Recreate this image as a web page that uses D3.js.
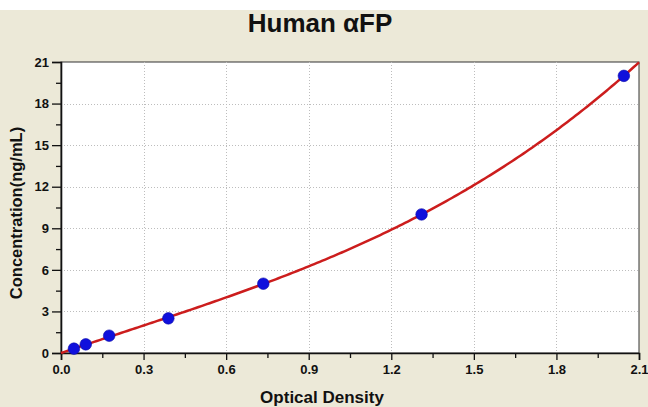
<!DOCTYPE html>
<html>
<head>
<meta charset="utf-8">
<script src="https://cdn.jsdelivr.net/npm/d3@7"></script>
<style>
	html, body { margin: 0; padding: 0; background: #fff; }
	svg { display: block; }
	text { font-family: "Liberation Sans", Arial, sans-serif; font-weight: bold; fill: #111; }
	.axis text { font-size: 13px; }
</style>
</head>
<body>
<svg id="chart" width="648" height="407"></svg>
<script>
// standards
const odValues = [0.047, 0.090, 0.175, 0.390, 0.735, 1.310, 2.045];
const concValues = [0.3125, 0.625, 1.25, 2.5, 5, 10, 20];

const xTicks = [0, 0.3, 0.6, 0.9, 1.2, 1.5, 1.8, 2.1];
const yTicks = [0, 3, 6, 9, 12, 15, 18, 21];
const xMinorTicks = [0.15, 0.45, 0.75, 1.05, 1.35, 1.65, 1.95];
const yMinorTicks = [1.5, 4.5, 7.5, 10.5, 13.5, 16.5, 19.5];

const chartTitle = "Human αFP";
const xTitle = "Optical Density";
const yTitle = "Concentration(ng/mL)";

const margin = {left: 61, right: 9, top: 62, bottom: 54};
const W = 648, H = 407;

const svg = d3.select('#chart');

// least squares cubic through the origin: c = a*x + b*x^2 + c*x^3
function fitCubic(xs, ys) {
	const M = [[0, 0, 0], [0, 0, 0], [0, 0, 0]];
	const v = [0, 0, 0];
	xs.forEach((x, i) => {
		const row = [x, x * x, x * x * x];
		for (let r = 0; r < 3; r++) {
			v[r] += row[r] * ys[i];
			for (let c = 0; c < 3; c++) M[r][c] += row[r] * row[c];
		}
	});
	for (let p = 0; p < 3; p++) {
		for (let r = p + 1; r < 3; r++) {
			const f = M[r][p] / M[p][p];
			for (let c = p; c < 3; c++) M[r][c] -= f * M[p][c];
			v[r] -= f * v[p];
		}
	}
	const k = [0, 0, 0];
	for (let r = 2; r >= 0; r--) {
		let s = v[r];
		for (let c = r + 1; c < 3; c++) s -= M[r][c] * k[c];
		k[r] = s / M[r][r];
	}
	return x => k[0] * x + k[1] * x * x + k[2] * x * x * x;
}

const fit = fitCubic(odValues, concValues);

const x = d3.scaleLinear().domain([0, 2.1]).range([margin.left, W - margin.right]);
const y = d3.scaleLinear().domain([0, 21]).range([H - margin.bottom, margin.top]);

// beige panel
svg.append('rect')
	.attr('x', 0).attr('y', 10)
	.attr('width', W).attr('height', H - 10)
	.attr('fill', '#ece9d8');

svg.append('rect')
	.attr('x', x(0)).attr('y', y(21))
	.attr('width', x(2.1) - x(0)).attr('height', y(0) - y(21))
	.attr('fill', '#fff')
	.attr('stroke', '#333')
	.attr('stroke-width', 1);

// grid
const grid = svg.append('g').attr('stroke', '#bdbdbd').attr('stroke-width', 1).attr('stroke-dasharray', '1,2');
grid.selectAll('.gx')
	.data(xTicks.slice(1, -1))
	.join('line')
	.attr('x1', d => Math.round(x(d)) + 0.5).attr('x2', d => Math.round(x(d)) + 0.5)
	.attr('y1', y(21)).attr('y2', y(0));
grid.selectAll('.gy')
	.data(yTicks.slice(1, -1))
	.join('line')
	.attr('y1', d => Math.round(y(d)) + 0.5).attr('y2', d => Math.round(y(d)) + 0.5)
	.attr('x1', x(0)).attr('x2', x(2.1));

// axes
svg.append('g')
	.attr('class', 'axis')
	.attr('transform', `translate(0,${y(0)})`)
	.call(d3.axisBottom(x).tickValues(xTicks).tickFormat(d3.format('.1f')).tickSize(7).tickPadding(5));
svg.append('g')
	.attr('transform', `translate(0,${y(0)})`)
	.call(d3.axisBottom(x).tickValues(xMinorTicks).tickFormat('').tickSize(5))
	.select('.domain').remove();

svg.append('g')
	.attr('class', 'axis')
	.attr('transform', `translate(${x(0)},0)`)
	.call(d3.axisLeft(y).tickValues(yTicks).tickFormat(d3.format('d')).tickSize(9).tickPadding(3));
svg.append('g')
	.attr('transform', `translate(${x(0)},0)`)
	.call(d3.axisLeft(y).tickValues(yMinorTicks).tickFormat('').tickSize(5))
	.select('.domain').remove();

svg.selectAll('.tick line').attr('stroke', '#111').attr('stroke-width', 1.3);
svg.selectAll('.domain').attr('stroke', '#111').attr('stroke-width', 1.6);

// fitted curve
const curvePts = d3.range(0, 2.1001, 0.01).map(v => [v, fit(v)]);
svg.append('path')
	.datum(curvePts)
	.attr('fill', 'none')
	.attr('stroke', '#cc1d1d')
	.attr('stroke-width', 2.5)
	.attr('d', d3.line().x(d => x(d[0])).y(d => y(d[1])));

// points
svg.append('g')
	.selectAll('circle')
	.data(odValues.map((v, i) => [v, concValues[i]]))
	.join('circle')
	.attr('cx', d => x(d[0]))
	.attr('cy', d => y(d[1]))
	.attr('r', 5.8)
	.attr('fill', '#1010dc')
	.attr('stroke', '#0a0aa8')
	.attr('stroke-width', 0.6);

// titles
svg.append('text')
	.attr('x', 320).attr('y', 32)
	.attr('text-anchor', 'middle')
	.attr('font-size', 26)
	.text(chartTitle);

svg.append('text')
	.attr('x', 322).attr('y', 403)
	.attr('text-anchor', 'middle')
	.attr('font-size', 17)
	.text(xTitle);

svg.append('text')
	.attr('transform', 'translate(22,213) rotate(-90)')
	.attr('text-anchor', 'middle')
	.attr('font-size', 16.5)
	.text(yTitle);
</script>
</body>
</html>
